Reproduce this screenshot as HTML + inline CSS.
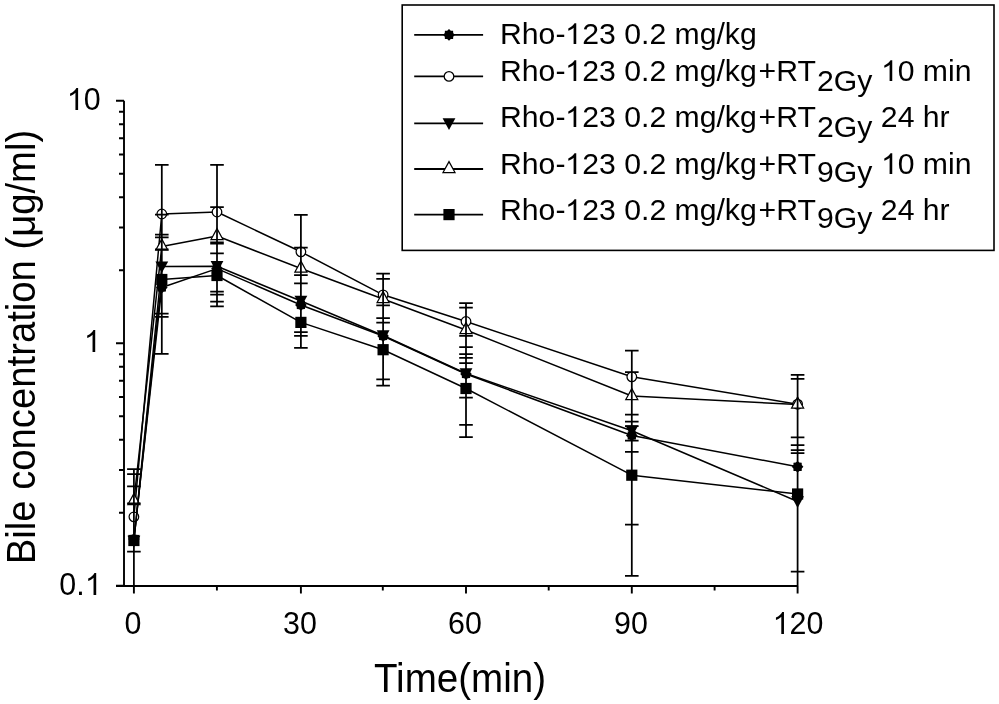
<!DOCTYPE html>
<html><head><meta charset="utf-8"><style>
html,body{margin:0;padding:0;background:#fff;}
body{width:999px;height:704px;position:relative;overflow:hidden;filter:grayscale(1);font-family:"Liberation Sans",sans-serif;color:#000;}
svg.main{position:absolute;left:0;top:0;}
.o{overflow:visible;}
.t{position:absolute;white-space:nowrap;line-height:1;}
.lt{position:absolute;left:500px;white-space:nowrap;font-size:30.2px;line-height:0;}
.sb{position:relative;margin-left:1.2px;}
.yl{position:absolute;right:898px;font-size:32px;line-height:0;transform:scaleX(0.95);transform-origin:100% 0;}
.xl{position:absolute;font-size:32px;line-height:0;transform:scaleX(0.95) translateX(-50%);transform-origin:0 0;}
</style></head><body>
<svg class="main" width="999" height="704" viewBox="0 0 999 704">
<path d="M124,100.7 V586 M116,586 H797.6" stroke="#000" stroke-width="1.9" fill="none"/>
<path d="M116,100.7 H124 M116,343.2 H124 M116,585.7 H124 M119,512.7 H124 M119,470.0 H124 M119,439.7 H124 M119,416.2 H124 M119,397.0 H124 M119,380.8 H124 M119,366.7 H124 M119,354.3 H124 M119,270.2 H124 M119,227.5 H124 M119,197.2 H124 M119,173.7 H124 M119,154.5 H124 M119,138.3 H124 M119,124.2 H124 M119,111.8 H124 M133.9,586 V593.6 M300.9,586 V593.6 M466.0,586 V593.6 M631.8,586 V593.6 M797.6,586 V593.6 M216.9,586 V590.6 M382.8,586 V590.6 M548.7,586 V590.6 M714.6,586 V590.6" stroke="#000" stroke-width="1.9" fill="none"/>
<polyline points="133.9,539.0 161.8,287.5 217.0,268.6 300.9,305.0 383.1,336.0 466.0,374.0 631.8,435.5 797.6,466.8" fill="none" stroke="#000" stroke-width="1.5" stroke-linejoin="round"/>
<polygon points="133.9,533.2 135.7,534.8 138.0,534.9 138.1,537.2 139.7,539.0 138.1,540.8 138.0,543.1 135.7,543.2 133.9,544.8 132.1,543.2 129.8,543.1 129.7,540.8 128.1,539.0 129.7,537.2 129.8,534.9 132.1,534.8" fill="#000"/>
<polygon points="161.8,281.7 163.6,283.3 165.9,283.4 166.0,285.7 167.6,287.5 166.0,289.3 165.9,291.6 163.6,291.7 161.8,293.3 160.0,291.7 157.7,291.6 157.6,289.3 156.0,287.5 157.6,285.7 157.7,283.4 160.0,283.3" fill="#000"/>
<polygon points="217.0,262.8 218.8,264.4 221.1,264.5 221.2,266.8 222.8,268.6 221.2,270.4 221.1,272.7 218.8,272.8 217.0,274.4 215.2,272.8 212.9,272.7 212.8,270.4 211.2,268.6 212.8,266.8 212.9,264.5 215.2,264.4" fill="#000"/>
<polygon points="300.9,299.2 302.7,300.8 305.0,300.9 305.1,303.2 306.7,305.0 305.1,306.8 305.0,309.1 302.7,309.2 300.9,310.8 299.1,309.2 296.8,309.1 296.7,306.8 295.1,305.0 296.7,303.2 296.8,300.9 299.1,300.8" fill="#000"/>
<polygon points="383.1,330.2 384.9,331.8 387.2,331.9 387.3,334.2 388.9,336.0 387.3,337.8 387.2,340.1 384.9,340.2 383.1,341.8 381.3,340.2 379.0,340.1 378.9,337.8 377.3,336.0 378.9,334.2 379.0,331.9 381.3,331.8" fill="#000"/>
<polygon points="466.0,368.2 467.8,369.8 470.1,369.9 470.2,372.2 471.8,374.0 470.2,375.8 470.1,378.1 467.8,378.2 466.0,379.8 464.2,378.2 461.9,378.1 461.8,375.8 460.2,374.0 461.8,372.2 461.9,369.9 464.2,369.8" fill="#000"/>
<polygon points="631.8,429.7 633.6,431.3 635.9,431.4 636.0,433.7 637.6,435.5 636.0,437.3 635.9,439.6 633.6,439.7 631.8,441.3 630.0,439.7 627.7,439.6 627.6,437.3 626.0,435.5 627.6,433.7 627.7,431.4 630.0,431.3" fill="#000"/>
<polygon points="797.6,461.0 799.4,462.6 801.7,462.7 801.8,465.0 803.4,466.8 801.8,468.6 801.7,470.9 799.4,471.0 797.6,472.6 795.8,471.0 793.5,470.9 793.4,468.6 791.8,466.8 793.4,465.0 793.5,462.7 795.8,462.6" fill="#000"/>
<polyline points="133.9,516.8 161.8,214.0 217.0,212.0 300.9,251.8 383.1,294.8 466.0,321.5 631.8,376.8 797.6,404.2" fill="none" stroke="#000" stroke-width="1.5" stroke-linejoin="round"/>
<circle cx="133.9" cy="516.8" r="4.8" fill="#fff" stroke="#000" stroke-width="1.25"/>
<circle cx="161.8" cy="214.0" r="4.8" fill="#fff" stroke="#000" stroke-width="1.25"/>
<circle cx="217.0" cy="212.0" r="4.8" fill="#fff" stroke="#000" stroke-width="1.25"/>
<circle cx="300.9" cy="251.8" r="4.8" fill="#fff" stroke="#000" stroke-width="1.25"/>
<circle cx="383.1" cy="294.8" r="4.8" fill="#fff" stroke="#000" stroke-width="1.25"/>
<circle cx="466.0" cy="321.5" r="4.8" fill="#fff" stroke="#000" stroke-width="1.25"/>
<circle cx="631.8" cy="376.8" r="4.8" fill="#fff" stroke="#000" stroke-width="1.25"/>
<circle cx="797.6" cy="404.2" r="4.8" fill="#fff" stroke="#000" stroke-width="1.25"/>
<polyline points="133.9,541.0 161.8,266.6 217.0,266.3 300.9,301.0 383.1,335.5 466.0,373.5 631.8,430.7 797.6,501.5" fill="none" stroke="#000" stroke-width="1.5" stroke-linejoin="round"/>
<polygon points="127.5,535.8 140.3,535.8 133.9,547.5" fill="#000"/>
<polygon points="155.4,261.4 168.2,261.4 161.8,273.1" fill="#000"/>
<polygon points="210.6,261.1 223.4,261.1 217.0,272.8" fill="#000"/>
<polygon points="294.5,295.8 307.3,295.8 300.9,307.5" fill="#000"/>
<polygon points="376.7,330.3 389.5,330.3 383.1,342.0" fill="#000"/>
<polygon points="459.6,368.3 472.4,368.3 466.0,380.0" fill="#000"/>
<polygon points="625.4,425.5 638.2,425.5 631.8,437.2" fill="#000"/>
<polygon points="791.2,496.3 804.0,496.3 797.6,508.0" fill="#000"/>
<polyline points="133.9,501.0 161.8,246.5 217.0,236.0 300.9,268.5 383.1,299.0 466.0,330.0 631.8,396.0 797.6,404.5" fill="none" stroke="#000" stroke-width="1.5" stroke-linejoin="round"/>
<polygon points="133.9,493.6 139.9,504.5 127.9,504.5" fill="#fff" stroke="#000" stroke-width="1.25" stroke-linejoin="miter"/>
<polygon points="161.8,239.1 167.8,250.0 155.8,250.0" fill="#fff" stroke="#000" stroke-width="1.25" stroke-linejoin="miter"/>
<polygon points="217.0,228.6 223.0,239.5 211.0,239.5" fill="#fff" stroke="#000" stroke-width="1.25" stroke-linejoin="miter"/>
<polygon points="300.9,261.1 306.9,272.0 294.9,272.0" fill="#fff" stroke="#000" stroke-width="1.25" stroke-linejoin="miter"/>
<polygon points="383.1,291.6 389.1,302.5 377.1,302.5" fill="#fff" stroke="#000" stroke-width="1.25" stroke-linejoin="miter"/>
<polygon points="466.0,322.6 472.0,333.5 460.0,333.5" fill="#fff" stroke="#000" stroke-width="1.25" stroke-linejoin="miter"/>
<polygon points="631.8,388.6 637.8,399.5 625.8,399.5" fill="#fff" stroke="#000" stroke-width="1.25" stroke-linejoin="miter"/>
<polygon points="797.6,397.1 803.6,408.0 791.6,408.0" fill="#fff" stroke="#000" stroke-width="1.25" stroke-linejoin="miter"/>
<polyline points="133.9,540.5 161.8,279.5 217.0,275.5 300.9,322.4 383.1,349.7 466.0,388.5 631.8,475.2 797.6,494.0" fill="none" stroke="#000" stroke-width="1.5" stroke-linejoin="round"/>
<rect x="128.3" y="534.9" width="11.2" height="11.2" fill="#000"/>
<rect x="156.2" y="273.9" width="11.2" height="11.2" fill="#000"/>
<rect x="211.4" y="269.9" width="11.2" height="11.2" fill="#000"/>
<rect x="295.3" y="316.8" width="11.2" height="11.2" fill="#000"/>
<rect x="377.5" y="344.1" width="11.2" height="11.2" fill="#000"/>
<rect x="460.4" y="382.9" width="11.2" height="11.2" fill="#000"/>
<rect x="626.2" y="469.6" width="11.2" height="11.2" fill="#000"/>
<rect x="792.0" y="488.4" width="11.2" height="11.2" fill="#000"/>
<path d="M133.9,469.0 V586.0 M127.1,469.0 H140.7 M127.1,474.1 H140.7 M127.1,486.3 H140.7 M127.1,503.4 H140.7 M127.1,551.6 H140.7 M161.8,164.8 V353.8 M155.0,164.8 H168.6 M155.0,214.5 H168.6 M155.0,234.5 H168.6 M155.0,237.3 H168.6 M155.0,249.3 H168.6 M155.0,313.5 H168.6 M155.0,316.8 H168.6 M155.0,353.8 H168.6 M217.0,164.9 V306.3 M210.2,164.9 H223.8 M210.2,207.0 H223.8 M210.2,242.3 H223.8 M210.2,243.5 H223.8 M210.2,253.4 H223.8 M210.2,291.5 H223.8 M210.2,294.6 H223.8 M210.2,301.7 H223.8 M210.2,306.3 H223.8 M300.9,214.9 V347.8 M294.1,214.9 H307.7 M294.1,247.5 H307.7 M294.1,275.0 H307.7 M294.1,283.4 H307.7 M294.1,332.0 H307.7 M294.1,335.9 H307.7 M294.1,347.8 H307.7 M383.1,273.5 V385.6 M376.3,273.5 H389.9 M376.3,278.9 H389.9 M376.3,305.3 H389.9 M376.3,318.0 H389.9 M376.3,322.6 H389.9 M376.3,379.3 H389.9 M376.3,385.6 H389.9 M466.0,303.2 V437.1 M459.2,303.2 H472.8 M459.2,307.5 H472.8 M459.2,335.8 H472.8 M459.2,347.1 H472.8 M459.2,354.0 H472.8 M459.2,357.8 H472.8 M459.2,363.1 H472.8 M459.2,397.7 H472.8 M459.2,424.8 H472.8 M459.2,437.1 H472.8 M631.8,350.6 V575.9 M625.0,350.6 H638.6 M625.0,372.1 H638.6 M625.0,414.5 H638.6 M625.0,421.7 H638.6 M625.0,426.0 H638.6 M625.0,440.5 H638.6 M625.0,451.9 H638.6 M625.0,524.5 H638.6 M625.0,575.9 H638.6 M797.6,374.8 V586.0 M790.8,374.8 H804.4 M790.8,378.8 H804.4 M790.8,437.4 H804.4 M790.8,445.2 H804.4 M790.8,450.0 H804.4 M790.8,453.1 H804.4 M790.8,571.6 H804.4" stroke="#000" stroke-width="1.75" fill="none"/>
<rect x="402.2" y="5" width="591.8" height="245.4" fill="none" stroke="#000" stroke-width="1.6"/>
<path d="M414.2,34.9 H483.1" stroke="#000" stroke-width="1.8"/>
<polygon points="449.0,29.1 450.8,30.7 453.1,30.8 453.2,33.1 454.8,34.9 453.2,36.7 453.1,39.0 450.8,39.1 449.0,40.7 447.2,39.1 444.9,39.0 444.8,36.7 443.2,34.9 444.8,33.1 444.9,30.8 447.2,30.7" fill="#000"/>
<path d="M414.2,76.4 H483.1" stroke="#000" stroke-width="1.8"/>
<circle cx="449.0" cy="76.4" r="4.8" fill="#fff" stroke="#000" stroke-width="1.25"/>
<path d="M414.2,123.4 H483.1" stroke="#000" stroke-width="1.8"/>
<polygon points="442.6,118.2 455.4,118.2 449.0,129.9" fill="#000"/>
<path d="M414.2,169.0 H483.1" stroke="#000" stroke-width="1.8"/>
<polygon points="449.0,161.6 455.0,172.5 443.0,172.5" fill="#fff" stroke="#000" stroke-width="1.25" stroke-linejoin="miter"/>
<path d="M414.2,214.6 H483.1" stroke="#000" stroke-width="1.8"/>
<rect x="443.4" y="209.0" width="11.2" height="11.2" fill="#000"/>
</svg>
<div class="lt" style="top:34.14px">Rho-<svg class="o" width="16.80" height="1"><path transform="translate(0,1) scale(0.014746,-0.014115)" d="M763 0L583 0L583 1147Q518 1085 412.5 1023Q307 961 223 930L223 1104Q374 1175 487 1276Q600 1377 647 1472L763 1472Z"/></svg>23 0.2 mg/kg</div><div class="lt" style="top:71.14px">Rho-<svg class="o" width="16.80" height="1"><path transform="translate(0,1) scale(0.014746,-0.014115)" d="M763 0L583 0L583 1147Q518 1085 412.5 1023Q307 961 223 930L223 1104Q374 1175 487 1276Q600 1377 647 1472L763 1472Z"/></svg>23 0.2 mg/kg<span style="margin-left:1.8px">+RT</span><span class="sb" style="top:9.9px">2Gy</span> <svg class="o" width="16.80" height="1"><path transform="translate(0,1) scale(0.014746,-0.014115)" d="M763 0L583 0L583 1147Q518 1085 412.5 1023Q307 961 223 930L223 1104Q374 1175 487 1276Q600 1377 647 1472L763 1472Z"/></svg>0 min</div><div class="lt" style="top:116.74px">Rho-<svg class="o" width="16.80" height="1"><path transform="translate(0,1) scale(0.014746,-0.014115)" d="M763 0L583 0L583 1147Q518 1085 412.5 1023Q307 961 223 930L223 1104Q374 1175 487 1276Q600 1377 647 1472L763 1472Z"/></svg>23 0.2 mg/kg<span style="margin-left:1.8px">+RT</span><span class="sb" style="top:9.9px">2Gy</span> 24 hr</div><div class="lt" style="top:163.84px">Rho-<svg class="o" width="16.80" height="1"><path transform="translate(0,1) scale(0.014746,-0.014115)" d="M763 0L583 0L583 1147Q518 1085 412.5 1023Q307 961 223 930L223 1104Q374 1175 487 1276Q600 1377 647 1472L763 1472Z"/></svg>23 0.2 mg/kg<span style="margin-left:1.8px">+RT</span><span class="sb" style="top:8.3px">9Gy</span> <svg class="o" width="16.80" height="1"><path transform="translate(0,1) scale(0.014746,-0.014115)" d="M763 0L583 0L583 1147Q518 1085 412.5 1023Q307 961 223 930L223 1104Q374 1175 487 1276Q600 1377 647 1472L763 1472Z"/></svg>0 min</div><div class="lt" style="top:209.84px">Rho-<svg class="o" width="16.80" height="1"><path transform="translate(0,1) scale(0.014746,-0.014115)" d="M763 0L583 0L583 1147Q518 1085 412.5 1023Q307 961 223 930L223 1104Q374 1175 487 1276Q600 1377 647 1472L763 1472Z"/></svg>23 0.2 mg/kg<span style="margin-left:1.8px">+RT</span><span class="sb" style="top:8.3px">9Gy</span> 24 hr</div>
<div class="yl" style="top:98.7px"><svg class="o" width="17.80" height="1"><path transform="translate(0,1) scale(0.015625,-0.014956)" d="M763 0L583 0L583 1147Q518 1085 412.5 1023Q307 961 223 930L223 1104Q374 1175 487 1276Q600 1377 647 1472L763 1472Z"/></svg>0</div>
<div class="yl" style="top:341.3px"><svg class="o" width="17.80" height="1"><path transform="translate(0,1) scale(0.015625,-0.014956)" d="M763 0L583 0L583 1147Q518 1085 412.5 1023Q307 961 223 930L223 1104Q374 1175 487 1276Q600 1377 647 1472L763 1472Z"/></svg></div>
<div class="yl" style="top:584.1px">0.<svg class="o" width="17.80" height="1"><path transform="translate(0,1) scale(0.015625,-0.014956)" d="M763 0L583 0L583 1147Q518 1085 412.5 1023Q307 961 223 930L223 1104Q374 1175 487 1276Q600 1377 647 1472L763 1472Z"/></svg></div>
<div class="xl" style="left:133.1px;top:622.7px">0</div>
<div class="xl" style="left:299.9px;top:622.7px">30</div>
<div class="xl" style="left:465.3px;top:622.7px">60</div>
<div class="xl" style="left:631.1px;top:622.7px">90</div>
<div class="xl" style="left:798.2px;top:622.7px"><svg class="o" width="17.80" height="1"><path transform="translate(0,1) scale(0.015625,-0.014956)" d="M763 0L583 0L583 1147Q518 1085 412.5 1023Q307 961 223 930L223 1104Q374 1175 487 1276Q600 1377 647 1472L763 1472Z"/></svg>20</div>
<div class="t" style="left:459.8px;top:678.15px;font-size:41.4px;line-height:0;transform:scaleX(0.932) translateX(-50%);transform-origin:0 0;">Time(min)</div>
<div class="t" style="left:21.1px;top:347.4px;font-size:41.4px;line-height:0;transform:rotate(-90deg) scaleX(0.924) translateX(-50%);transform-origin:0 0;">Bile concentration (&#956;g/ml)</div>
</body></html>
